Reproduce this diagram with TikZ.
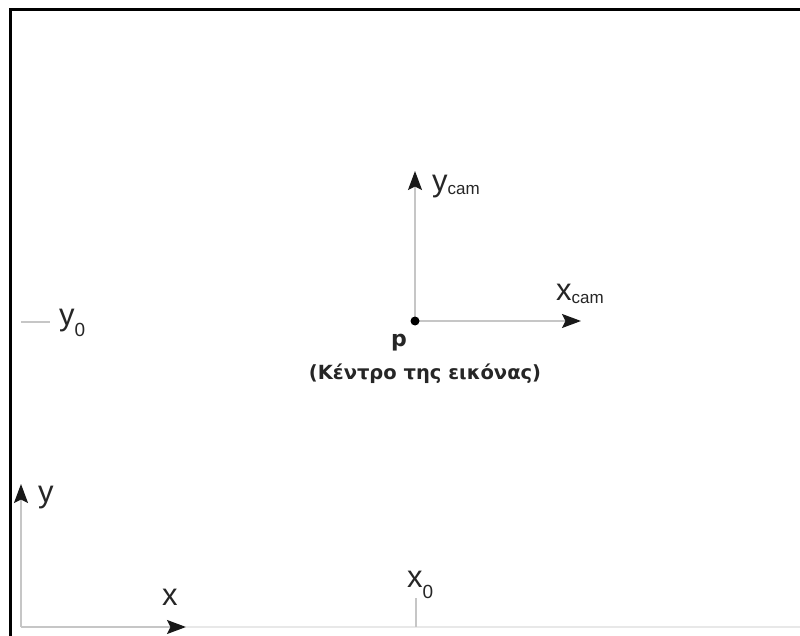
\documentclass[tikz,border=0pt]{standalone}
\usepackage{fontspec}
\setmainfont{Liberation Sans}
\newfontfamily\capfont{DejaVu Sans}
\usetikzlibrary{arrows.meta}
\tikzset{
  axisline/.style={draw=gray!45, line width=1.5pt, -{Stealth[length=19pt,width=14pt,inset=3.5pt,color=black!90]}},
  tickline/.style={draw=gray!45, line width=1.5pt},
  faintline/.style={draw=gray!18, line width=1.5pt},
  lbl/.style={inner sep=0pt, anchor=base west, text=black!85},
  frameline/.style={line width=3pt, draw=black},
}
\newcommand{\camlab}[2]{{\fontsize{31}{31}\selectfont #1}{\fontsize{17}{17}\selectfont\raisebox{-3pt}{#2}}}
\newcommand{\zerolab}[1]{{\fontsize{31}{31}\selectfont #1}{\fontsize{19}{19}\selectfont\raisebox{-11pt}{0}}}
\begin{document}
\begin{tikzpicture}[x=1pt,y=-1pt]
\useasboundingbox (0,0) rectangle (800,636);
% frame
\draw[frameline] (10,636) -- (10,10) -- (800,10);
% camera axes
\coordinate (P) at (415,321);
\coordinate (ytip) at (415,171);
\coordinate (xtip) at (581,321);
\draw[axisline] (P) -- (ytip);
\draw[axisline] (P) -- (xtip);
\node[circle, fill=black, inner sep=0pt, minimum size=9pt] (pdot) at (P) {};
\node[lbl] (ycam) at (432,192) {\camlab{y}{cam}};
\node[lbl] (xcam) at (556,300) {\camlab{x}{cam}};
\node[lbl] (plabel) at (391,346) {\capfont\fontsize{22}{22}\selectfont\bfseries p};
\node[inner sep=0pt, anchor=base, text=black!85] (caption) at (425,379) {\capfont\fontsize{19.5}{19.5}\selectfont\bfseries (Κέντρο της εικόνας)};
% image axes
\coordinate (O) at (21,627);
\coordinate (xend) at (186,627);
\coordinate (yend) at (21,484);
\coordinate (far) at (800,627);
\draw[faintline] (xend) -- (far);
\draw[axisline] (O) -- (xend);
\draw[axisline] (O) -- (yend);
\node[lbl] (ylab) at (38,502) {{\fontsize{31}{31}\selectfont y}};
\node[lbl] (xlab) at (162,605) {{\fontsize{31}{31}\selectfont x}};
% x0 tick
\coordinate (x0top) at (416,598);
\coordinate (x0bot) at (416,627);
\draw[tickline] (x0top) -- (x0bot);
\node[lbl] (x0lab) at (407,587) {\zerolab{x}};
% y0 tick
\coordinate (y0a) at (21,322);
\coordinate (y0b) at (50,322);
\draw[tickline] (y0a) -- (y0b);
\node[lbl] (y0lab) at (59,325) {\zerolab{y}};
\end{tikzpicture}
\end{document}
